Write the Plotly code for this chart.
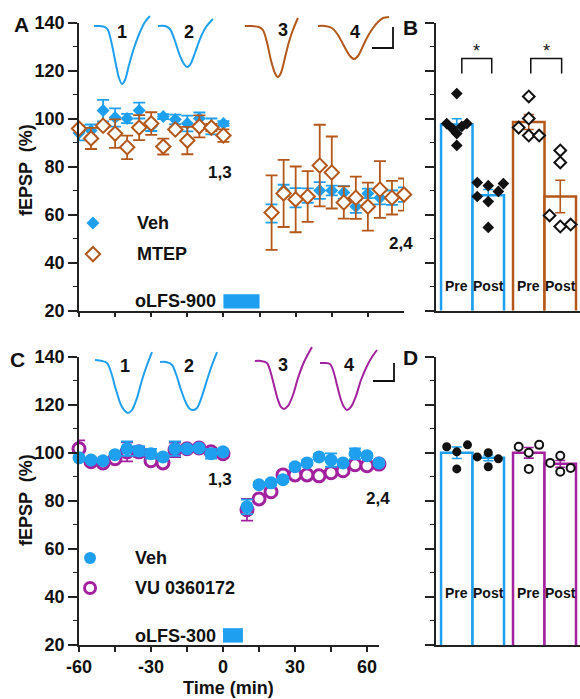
import plotly.graph_objects as go

BLUE = "#1E9FEF"
BROWN = "#B4571A"
PURPLE = "#A3219F"
BLACK = "#111111"
FONT = "Liberation Sans, Arial, sans-serif"

# ---------------- Panel A data (oLFS-900, Veh vs MTEP) ----------------
a_pre_t = [-60, -55, -50, -45, -40, -35, -30, -25, -20, -15, -10, -5, 0]
a_post_t = [20, 25, 30, 35, 40, 45, 50, 55, 60, 65, 70, 75]
a_veh_pre = [94, 95, 103.3, 100.4, 100, 103.3, 96.8, 100.8, 99.6, 97.9, 100, 96.7, 97.9]
a_veh_pre_err = [3.1, 2.5, 4.5, 3.8, 1.9, 3.3, 2, 1, 2, 3.3, 2.5, 3.3, 1]
a_mtep_pre = [95.8, 91.7, 97, 93.7, 88, 96.2, 97.9, 88.3, 95.4, 90.8, 96.7, 96.2, 92.9]
a_mtep_pre_err = [1, 4.4, 1, 5.9, 4.9, 5.2, 4.7, 3.3, 1, 5.7, 4.6, 1.5, 2.6]
a_veh_post = [60.4, 70, 67, 67.9, 70, 70, 69.2, 63.3, 68.8, 67, 67, 68.3]
a_veh_post_err = [3.8, 2.4, 4, 3, 3.5, 2, 2.6, 2.6, 2, 2.8, 3, 3]
a_mtep_post = [60.8, 68.8, 66.3, 67.5, 80.4, 77.5, 65, 67, 63.3, 70.4, 67, 68.3]
a_mtep_post_err = [15.5, 14, 13.7, 10.6, 17, 15, 6.7, 8.8, 10, 11.8, 7, 6.7]

# ---------------- Panel C data (oLFS-300, Veh vs VU 0360172) ----------------
c_pre_t = [-60, -55, -50, -45, -40, -35, -30, -25, -20, -15, -10, -5, 0]
c_post_t = [10, 15, 20, 25, 30, 35, 40, 45, 50, 55, 60, 65]
c_veh_pre = [97.9, 97, 96.7, 99.2, 101.7, 100.8, 99.6, 98.3, 101.7, 101.7, 102, 99.6, 100.4]
c_veh_pre_err = [1, 0.8, 0.8, 1, 3, 2, 2, 1, 3, 1, 1, 2, 1]
c_vu_pre = [101.7, 96.3, 95.8, 97.5, 100.4, 100.4, 96.7, 95.8, 101.2, 101.7, 102, 100.4, 99.6]
c_vu_pre_err = [3.5, 1, 1, 1, 4, 2, 1.5, 1, 3, 1, 1, 1.5, 1]
c_veh_post = [77.5, 86.7, 87.5, 88.8, 94.2, 95.8, 98.3, 97, 95.8, 99.6, 98.8, 95.8]
c_veh_post_err = [3, 1, 1, 1, 1, 1, 1, 2.8, 1, 2.2, 1, 1]
c_vu_post = [76.3, 80.8, 83.8, 90.8, 90.8, 90.8, 90.4, 91.7, 92.5, 95, 94.6, 95.3]
c_vu_post_err = [4.5, 1, 1, 1, 1, 1, 1, 1, 1, 1, 1, 1]

# ---------------- Panel B data (bars) ----------------
b_pos = [0, 1, 2.286, 3.286]            # Veh Pre, Veh Post, MTEP Pre, MTEP Post
b_veh_mean = [97.5, 68.0]
b_veh_sem = [2.4, 2.4]
b_mtep_mean = [98.5, 67.5]
b_mtep_sem = [3.1, 6.8]
b_veh_pre_pts = [110.4, 97.9, 97.9, 95.8, 96.7, 93.7, 88.8]
b_veh_pre_jit = [0, -0.32, 0.32, -0.14, 0.16, 0, 0]
b_veh_post_pts = [73.3, 72.0, 72.9, 67.5, 69.6, 65.4, 54.6]
b_veh_post_jit = [-0.35, 0, 0.48, -0.35, 0.32, 0, 0]
b_mtep_pre_pts = [109.2, 100.0, 96.2, 92.9, 92.9]
b_mtep_pre_jit = [0, 0, -0.32, 0, 0.33]
b_mtep_post_pts = [86.7, 81.7, 59.6, 55.0, 55.8]
b_mtep_post_jit = [0, 0, -0.34, 0, 0.33]

# ---------------- Panel D data (bars) ----------------
d_veh_mean = [100.0, 97.9]
d_veh_sem = [2.4, 1.2]
d_vu_mean = [100.0, 95.4]
d_vu_sem = [2.2, 1.4]
d_veh_pre_pts = [102.5, 100.4, 103.3, 93.3]
d_veh_pre_jit = [-0.32, 0, 0.34, 0]
d_veh_post_pts = [98.3, 100.0, 97.5, 94.2]
d_veh_post_jit = [-0.35, 0, 0.32, 0]
d_vu_pre_pts = [102.5, 100.0, 103.3, 93.3]
d_vu_pre_jit = [-0.32, 0, 0.33, 0]
d_vu_post_pts = [95.8, 98.8, 92.1, 93.7]
d_vu_post_jit = [-0.32, 0, 0, 0.33]

# ---------------- Example fEPSP traces (ms, mV) ----------------
wA1_t = [0, 1.43, 2.62, 3.33, 4.29, 5.24, 5.95, 6.67, 7.38, 8.33, 9.52, 10.95, 12.14, 13.33]
wA1_v = [0, 0, -0.024, -0.095, -0.452, -0.929, -1.238, -1.381, -1.286, -0.929, -0.524, -0.143, 0.095, 0.238]
wA2_t = [0, 1.67, 2.86, 4.05, 5.24, 6.19, 6.9, 7.62, 8.81, 10, 11.43, 13.1]
wA2_v = [0, 0, -0.071, -0.357, -0.714, -0.905, -0.976, -0.929, -0.643, -0.31, -0.024, 0.167]
wA3_t = [0, 1.67, 3.33, 4.29, 5.24, 6.19, 7.14, 7.86, 8.57, 9.52, 10.48, 11.43, 12.62]
wA3_v = [0, 0, -0.024, -0.095, -0.381, -0.81, -1.119, -1.214, -1.119, -0.762, -0.381, -0.095, 0.19]
wA4_t = [0, 1.67, 3.33, 4.76, 6.19, 7.62, 8.57, 9.52, 10.71, 11.9, 13.1, 14.29, 15.48, 16.9]
wA4_v = [0, 0, -0.048, -0.214, -0.476, -0.714, -0.786, -0.714, -0.476, -0.238, -0.048, 0.095, 0.19, 0.214]
wA_start = [3.57, 18.8, 39.5, 56.9]

wC1_t = [0, 1.67, 2.86, 3.81, 5, 6.19, 7.14, 7.86, 8.81, 10, 11.19, 12.38, 13.57]
wC1_v = [0.024, 0, -0.048, -0.262, -0.69, -1.048, -1.19, -1.238, -1.167, -0.881, -0.452, -0.095, 0.214]
wC2_t = [0, 1.43, 2.86, 3.81, 5, 6.19, 7.14, 7.86, 8.81, 10, 11.19, 12.38, 13.57]
wC2_v = [-0.024, -0.024, -0.095, -0.31, -0.69, -1, -1.143, -1.167, -1.119, -0.833, -0.452, -0.095, 0.214]
wC3_t = [0, 1.43, 2.86, 3.57, 4.52, 5.48, 6.19, 6.9, 7.86, 9.05, 10.24, 11.67, 13.57]
wC3_v = [0, 0, -0.048, -0.214, -0.571, -0.929, -1.095, -1.143, -1.071, -0.81, -0.405, -0.024, 0.333]
wC4_t = [0, 1.19, 2.38, 3.1, 4.05, 5, 5.71, 6.43, 7.38, 8.57, 9.76, 11.19, 12.38, 13.57]
wC4_v = [-0.048, -0.048, -0.071, -0.214, -0.571, -0.929, -1.095, -1.167, -1.095, -0.833, -0.452, -0.119, 0.095, 0.262]
wC_start = [3.81, 19.29, 41.9, 57.38]

W, H = 580, 699


def px(x):
    return x / W


def py(y):
    return 1 - y / H


def xd(a, b):
    return [a / W, b / W]


def yd(top, bottom):
    return [1 - bottom / H, 1 - top / H]


fig = go.Figure()


def err(arr, color, width=6, th=1.8):
    return dict(type="data", array=arr, color=color, thickness=th, width=width, visible=True)


# ---- Panel A ----
fig.add_trace(go.Scatter(x=a_pre_t + a_post_t, y=a_veh_pre + a_veh_post, mode="markers",
                         marker=dict(symbol="diamond", size=10, color=BLUE), cliponaxis=False,
                         error_y=err(a_veh_pre_err + a_veh_post_err, BLUE, 6, 1.8),
                         xaxis="x", yaxis="y"))
fig.add_trace(go.Scatter(x=a_pre_t + a_post_t, y=a_mtep_pre + a_mtep_post, mode="markers",
                         marker=dict(symbol="diamond", size=11, color="white",
                                     line=dict(color=BROWN, width=2)), cliponaxis=False,
                         error_y=err(a_mtep_pre_err + a_mtep_post_err, BROWN, 6, 1.8),
                         xaxis="x", yaxis="y"))
# legend markers A
fig.add_trace(go.Scatter(x=[-54.2], y=[56.5], mode="markers",
                         marker=dict(symbol="diamond", size=10, color=BLUE), xaxis="x", yaxis="y"))
fig.add_trace(go.Scatter(x=[-54.2], y=[43.5], mode="markers",
                         marker=dict(symbol="diamond", size=11, color="white", line=dict(color=BROWN, width=2)),
                         xaxis="x", yaxis="y"))

# ---- Panel C ----
fig.add_trace(go.Scatter(x=c_pre_t + c_post_t, y=c_vu_pre + c_vu_post, mode="markers",
                         marker=dict(symbol="circle", size=12, color="white",
                                     line=dict(color=PURPLE, width=3)), cliponaxis=False,
                         error_y=err(c_vu_pre_err + c_vu_post_err, PURPLE, 6, 1.8),
                         xaxis="x3", yaxis="y3"))
fig.add_trace(go.Scatter(x=c_pre_t + c_post_t, y=c_veh_pre + c_veh_post, mode="markers",
                         marker=dict(symbol="circle", size=13, color=BLUE), cliponaxis=False,
                         error_y=err(c_veh_pre_err + c_veh_post_err, BLUE, 6, 1.8),
                         xaxis="x3", yaxis="y3"))
fig.add_trace(go.Scatter(x=[-55.4], y=[56.25], mode="markers",
                         marker=dict(symbol="circle", size=12, color=BLUE), xaxis="x3", yaxis="y3"))
fig.add_trace(go.Scatter(x=[-55.4], y=[43.75], mode="markers",
                         marker=dict(symbol="circle", size=11, color="white", line=dict(color=PURPLE, width=3)),
                         xaxis="x3", yaxis="y3"))


# ---- Bars ----
def add_bars(xpos, means, sems, color, xa, ya):
    fig.add_trace(go.Bar(x=xpos, y=means, width=1.0,
                         marker=dict(color="white", line=dict(color=color, width=2.5)),
                         error_y=err(sems, color, 5, 1.6),
                         xaxis=xa, yaxis=ya))


def add_dots(center, pts, jit, symbol, filled, xa, ya, size=8):
    xs = [center + j for j in jit]
    if filled:
        mk = dict(symbol=symbol, size=size, color=BLACK)
    else:
        mk = dict(symbol=symbol, size=size, color="white", line=dict(color=BLACK, width=2))
    fig.add_trace(go.Scatter(x=xs, y=pts, mode="markers", marker=mk, xaxis=xa, yaxis=ya,
                             cliponaxis=False))


add_bars(b_pos[0:2], b_veh_mean, b_veh_sem, BLUE, "x2", "y2")
add_bars(b_pos[2:4], b_mtep_mean, b_mtep_sem, BROWN, "x2", "y2")
add_dots(b_pos[0], b_veh_pre_pts, b_veh_pre_jit, "diamond", True, "x2", "y2", 9)
add_dots(b_pos[1], b_veh_post_pts, b_veh_post_jit, "diamond", True, "x2", "y2", 9)
add_dots(b_pos[2], b_mtep_pre_pts, b_mtep_pre_jit, "diamond", False, "x2", "y2", 9)
add_dots(b_pos[3], b_mtep_post_pts, b_mtep_post_jit, "diamond", False, "x2", "y2", 9)

add_bars(b_pos[0:2], d_veh_mean, d_veh_sem, BLUE, "x4", "y4")
add_bars(b_pos[2:4], d_vu_mean, d_vu_sem, PURPLE, "x4", "y4")
add_dots(b_pos[0], d_veh_pre_pts, d_veh_pre_jit, "circle", True, "x4", "y4", 9)
add_dots(b_pos[1], d_veh_post_pts, d_veh_post_jit, "circle", True, "x4", "y4", 9)
add_dots(b_pos[2], d_vu_pre_pts, d_vu_pre_jit, "circle", False, "x4", "y4", 8)
add_dots(b_pos[3], d_vu_post_pts, d_vu_post_jit, "circle", False, "x4", "y4", 8)

# ---- Example traces ----
for (tt, vv), st, col in zip([(wA1_t, wA1_v), (wA2_t, wA2_v), (wA3_t, wA3_v), (wA4_t, wA4_v)], wA_start,
                             [BLUE, BLUE, BROWN, BROWN]):
    fig.add_trace(go.Scatter(x=[st + t for t in tt], y=vv, mode="lines",
                             line=dict(color=col, width=2, shape="spline", smoothing=0.8),
                             xaxis="x5", yaxis="y5"))
for (tt, vv), st, col in zip([(wC1_t, wC1_v), (wC2_t, wC2_v), (wC3_t, wC3_v), (wC4_t, wC4_v)], wC_start,
                             [BLUE, BLUE, PURPLE, PURPLE]):
    fig.add_trace(go.Scatter(x=[st + t for t in tt], y=vv, mode="lines",
                             line=dict(color=col, width=2, shape="spline", smoothing=0.8),
                             xaxis="x6", yaxis="y6"))

AXC = "#222222"
tickfont = dict(family=FONT, size=18, color=BLACK, weight="bold")


def yax(domain, labels=True):
    return dict(domain=domain, range=[20, 140], showline=True, linecolor=AXC, linewidth=1.5,
                ticks="outside", tickvals=[20, 40, 60, 80, 100, 120, 140], ticklen=9, tickwidth=1.5,
                tickcolor=AXC, showticklabels=labels, tickfont=tickfont, showgrid=False, zeroline=False,
                automargin=False,
                minor=dict(tickvals=[30, 50, 70, 90, 110, 130], ticklen=4.5, tickwidth=1.3,
                           tickcolor=AXC, ticks="outside"), fixedrange=True)


def tax(domain, rng, labels):
    return dict(domain=domain, range=rng, showline=True, linecolor=AXC, linewidth=1.5,
                ticks="outside", tickvals=[-60, -30, 0, 30, 60], ticktext=["-60", "-30", "0", "30", "60"],
                ticklen=5, tickwidth=1.5, tickcolor=AXC, showticklabels=labels, tickfont=tickfont,
                showgrid=False, zeroline=False, automargin=False,
                minor=dict(tickvals=[-45, -15, 15, 45], ticklen=5, tickwidth=1.5, tickcolor=AXC,
                           ticks="outside"), fixedrange=True)


def bax(domain):
    return dict(domain=domain, range=[-0.66, 3.913], showline=True, linecolor=AXC, linewidth=1.5,
                ticks="", showticklabels=False, showgrid=False, zeroline=False, fixedrange=True,
                automargin=False)


def hid(domain, rng):
    return dict(domain=domain, range=rng, visible=False, fixedrange=True, automargin=False)


fig.update_layout(
    template="none",
    width=W, height=H, margin=dict(l=0, r=0, t=0, b=0, pad=0, autoexpand=False),
    paper_bgcolor="white", plot_bgcolor="rgba(0,0,0,0)", showlegend=False,
    barmode="overlay",
    xaxis=dict(tax(xd(79, 404), [-60, 75], False), anchor="y"),
    yaxis=dict(yax(yd(22.5, 310.5)), anchor="x"),
    xaxis2=dict(bax(xd(436, 580)), anchor="y2"),
    yaxis2=dict(yax(yd(22.5, 310.5), False), anchor="x2"),
    xaxis3=dict(tax(xd(79, 379), [-60, 65], True), anchor="y3"),
    yaxis3=dict(yax(yd(356.7, 645)), anchor="x3"),
    xaxis4=dict(bax(xd(436, 580)), anchor="y4"),
    yaxis4=dict(yax(yd(356.7, 645), False), anchor="x4"),
    xaxis5=dict(hid(xd(79, 404), [0, 77.38]), anchor="y5"),
    yaxis5=dict(hid(yd(10, 95), [-1.643, 0.381]), anchor="x5"),
    xaxis6=dict(hid(xd(79, 404), [0, 77.38]), anchor="y6"),
    yaxis6=dict(hid(yd(340, 420), [-1.405, 0.5]), anchor="x6"),
)

shapes = []
# stimulation bars
shapes.append(dict(type="rect", xref="x", yref="y", x0=0, x1=15, y0=20.8, y1=26.8,
                   fillcolor=BLUE, line=dict(width=0)))
shapes.append(dict(type="rect", xref="x3", yref="y3", x0=0, x1=8.3, y0=21, y1=27,
                   fillcolor=BLUE, line=dict(width=0)))
# significance brackets in B
for x0, x1 in [(0.16, 1.11), (2.35, 3.33)]:
    shapes.append(dict(type="path", xref="x2", yref="y2",
                       path=f"M {x0},118.75 L {x0},125 L {x1},125 L {x1},118.75",
                       line=dict(color=BLACK, width=1.5)))
# scale bars
shapes.append(dict(type="path", xref="x5", yref="y5", path="M 69.76,-0.524 L 74.76,-0.524 L 74.76,-0.024",
                   line=dict(color=BLACK, width=1.8)))
shapes.append(dict(type="path", xref="x6", yref="y6", path="M 70,-0.476 L 75,-0.476 L 75,-0.048",
                   line=dict(color=BLACK, width=1.8)))
fig.update_layout(shapes=shapes)

ann = []


def T(text, x, y, size, xref="paper", yref="paper", xanchor="center", yanchor="middle", angle=0,
      bold=True):
    ann.append(dict(text=text, x=x, y=y, xref=xref, yref=yref, xanchor=xanchor, yanchor=yanchor,
                    showarrow=False, textangle=angle,
                    font=dict(family=FONT, size=size, color=BLACK, weight="bold" if bold else "normal")))


# panel letters
T("A", px(21), py(25), 21)
T("B", px(410), py(27), 21)
T("C", px(17), py(359), 21)
T("D", px(410), py(357), 21)
# y titles
T("fEPSP  (%)", px(26), py(170), 18, angle=-90)
T("fEPSP  (%)", px(26), py(500), 18, angle=-90)
T("Time (min)", px(228), py(688), 18)
# trace numbers
for lab, x, y in [("1", 122, 32), ("2", 189, 32), ("3", 283, 30), ("4", 355, 32),
                  ("1", 125, 366), ("2", 189, 366), ("3", 283, 365), ("4", 349, 365)]:
    T(lab, px(x), py(y), 18)
# legends A
T("Veh", -36.7, 56.5, 18, "x", "y", xanchor="left")
T("MTEP", -36.7, 43.4, 18, "x", "y", xanchor="left")
T("oLFS-900", -2.1, 24, 18, "x", "y", xanchor="right")
T("1,3", -1.25, 77.3, 17, "x", "y")
T("2,4", 73.75, 48.1, 17, "x", "y")
# legends C
T("Veh", -37.5, 56.25, 18, "x3", "y3", xanchor="left")
T("VU 0360172", -37.5, 43.75, 18, "x3", "y3", xanchor="left")
T("oLFS-300", -2.1, 23.75, 18, "x3", "y3", xanchor="right")
T("1,3", -1.25, 88.75, 17, "x3", "y3")
T("2,4", 64.6, 80.8, 17, "x3", "y3")
# bar labels
for i, lab in enumerate(["Pre", "Post", "Pre", "Post"]):
    T(lab, b_pos[i], 30.4, 14, "x2", "y2")
    T(lab, b_pos[i], 41.7, 14, "x4", "y4")
T("Veh", 0.51, 20 - (330 - 310.5) / 2.4, 17, "x2", "y2")
T("MTEP", 2.86, 20 - (330 - 310.5) / 2.4, 17, "x2", "y2")
T("Veh", 0.51, 20 - (662 - 645) / 2.4, 17, "x4", "y4")
T("VU", 2.73, 20 - (662 - 645) / 2.4, 17, "x4", "y4")
# asterisks
T("*", 0.635, 128, 18, "x2", "y2", bold=False)
T("*", 2.84, 128, 18, "x2", "y2", bold=False)
fig.update_layout(annotations=ann)

fig.write_html("out.html", config={"displayModeBar": False},
               post_script="document.body.style.margin='0';document.body.style.overflow='hidden';")
